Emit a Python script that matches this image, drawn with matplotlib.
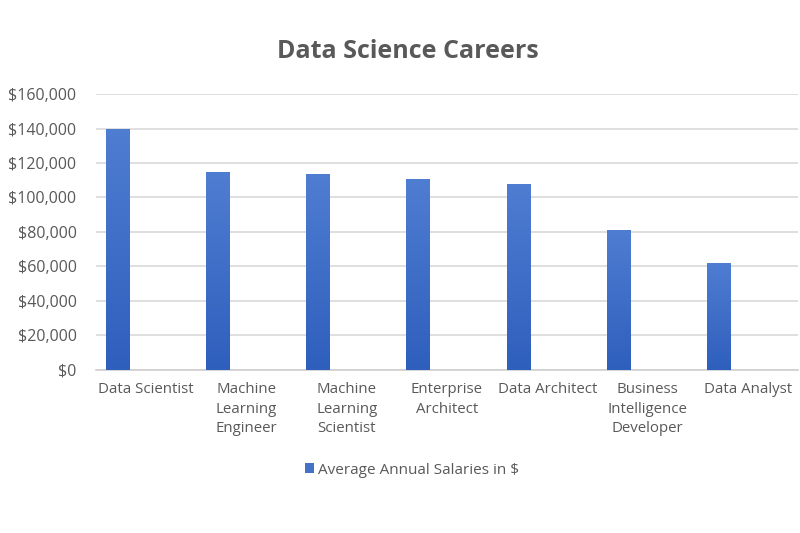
import numpy as np
import matplotlib.pyplot as plt
from matplotlib.ticker import FuncFormatter
from matplotlib.colors import LinearSegmentedColormap

# ----- data -----
careers = ["Data Scientist", "Machine\nLearning\nEngineer", "Machine\nLearning\nScientist",
           "Enterprise\nArchitect", "Data Architect", "Business\nIntelligence\nDeveloper",
           "Data Analyst"]
salaries = [140000, 114500, 113500, 110500, 108000, 81300, 62200]
series_name = "Average Annual Salaries in $"
y_ticks = [0, 20000, 40000, 60000, 80000, 100000, 120000, 140000, 160000]

plt.rcParams['font.family'] = ['Open Sans', 'DejaVu Sans']

fig = plt.figure(figsize=(8, 5.33), dpi=100)
ax = fig.add_axes([0.12, 0.306, 0.8775, 0.5176])

x = np.arange(len(careers))
# excel style: bar sits on the left half of each category slot
bars = ax.bar(x - 0.29, salaries, width=0.23, color='#4472c4', label=series_name, zorder=2)

# vertical gradient on each bar (lighter on top)
grad = np.linspace(0, 1, 256).reshape(-1, 1)
cmap = LinearSegmentedColormap.from_list('blu', ['#2f5fbd', '#4f7dd2'])
for b in bars:
    x0, y0 = b.get_x(), b.get_y()
    w, h = b.get_width(), b.get_height()
    im = ax.imshow(grad, cmap=cmap, aspect='auto', origin='lower',
                   extent=[x0, x0 + w, y0, y0 + h], zorder=3)
    im.set_clip_path(b)

ax.set_xlim(-0.5, len(careers) - 0.5)
ax.set_ylim(0, 160000)
ax.set_yticks(y_ticks)
ax.yaxis.set_major_formatter(FuncFormatter(lambda v, p: f"${v:,.0f}"))
ax.set_xticks(x)
ax.set_xticklabels(careers, linespacing=1.4, va='top', fontsize=10.8)

ax.grid(axis='y', color='#d9d9d9', linewidth=1.2, zorder=0)
for s in ['top', 'right', 'left']:
    ax.spines[s].set_visible(False)
ax.spines['bottom'].set_color('#cfcfcf')
ax.spines['bottom'].set_linewidth(1.2)
ax.tick_params(axis='both', length=0, colors='#595959')
ax.tick_params(axis='y', labelsize=11.5, pad=14)
ax.tick_params(axis='x', pad=9)

fig.text(0.51, 1 - 52 / 533, "Data Science Careers", ha='center', va='center',
         fontsize=18, fontweight='bold', color='#595959')

fig.legend(handles=[bars], labels=[series_name], loc='center',
           bbox_to_anchor=(412 / 800, 1 - 470 / 533), frameon=False,
           fontsize=11, labelcolor='#595959', handlelength=0.6, handleheight=0.6,
           handletextpad=0.3)

fig.savefig('out.png', dpi=100)
